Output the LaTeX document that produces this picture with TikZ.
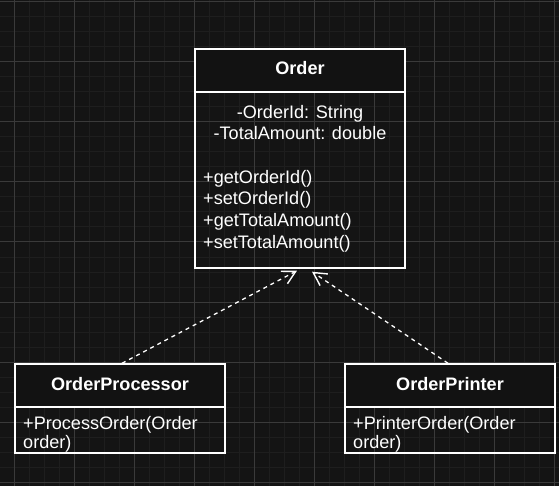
\documentclass[tikz,border=0pt]{standalone}
\usepackage{fontspec}
\setmainfont{Liberation Sans}
\usetikzlibrary{arrows.meta}
\definecolor{bg}{HTML}{141414}
\definecolor{gridminor}{HTML}{1E1E1E}
\definecolor{gridmajor}{HTML}{3A3A3A}
\definecolor{headfill}{HTML}{121212}
\begin{document}
\begin{tikzpicture}[x=1pt,y=-1pt,
  umlbox/.style={draw=white, line width=1.4pt, rectangle, inner sep=0pt},
  headbox/.style={fill=headfill, draw=white, line width=1.4pt, rectangle, inner sep=0pt},
  txt/.style={font=\fontsize{18.1}{21}\selectfont, text=white, inner sep=0pt},
  btxt/.style={txt, font=\fontsize{18.1}{21}\selectfont\bfseries},
  dep/.style={draw=white, line width=1.3pt, dash pattern=on 4pt off 4pt,
    -{Straight Barb[length=13pt,width=14pt,line width=1.4pt]}}
]
% background and grid
\fill[bg] (0,0) rectangle (559,486);
\useasboundingbox (0,0) rectangle (559,486);
\foreach \x in {14,29,...,554} \draw[gridminor, line width=1pt] (\x,0) -- (\x,486);
\foreach \y in {2,17,...,482} \draw[gridminor, line width=1pt] (0,\y) -- (559,\y);
\foreach \x in {14,74,...,554} \draw[gridmajor, line width=1pt] (\x,0) -- (\x,486);
\foreach \y in {2,62,...,482} \draw[gridmajor, line width=1pt] (0,\y) -- (559,\y);

% Order class
\node[headbox, minimum width=210pt, minimum height=43pt] (orderhead) at (300,70.5) {};
\node[umlbox, minimum width=210pt, minimum height=219pt] (order) at (300,158.5) {};
\node[btxt, anchor=base] (ordername) at (300,75) {Order};
\node[txt, anchor=base] (attr1) at (300,118.5) {-OrderId: String};
\node[txt, anchor=base] (attr2) at (300,140) {-TotalAmount: double};
\node[txt, anchor=base west] (m1) at (203,183.5) {+getOrderId()};
\node[txt, anchor=base west] (m2) at (203,205) {+setOrderId()};
\node[txt, anchor=base west] (m3) at (203,226.5) {+getTotalAmount()};
\node[txt, anchor=base west] (m4) at (203,248) {+setTotalAmount()};

% OrderProcessor class
\node[headbox, minimum width=210pt, minimum height=43pt] (prochead) at (120,385.5) {};
\node[umlbox, minimum width=210pt, minimum height=89pt] (proc) at (120,408.5) {};
\node[btxt, anchor=base] (procname) at (120,390.7) {OrderProcessor};
\node[txt, anchor=base west] (pm1) at (23,429) {+ProcessOrder(Order};
\node[txt, anchor=base west] (pm2) at (23,448.3) {order)};

% OrderPrinter class
\node[headbox, minimum width=210pt, minimum height=43pt] (printhead) at (450,385.5) {};
\node[umlbox, minimum width=210pt, minimum height=89pt] (printer) at (450,408.5) {};
\node[btxt, anchor=base] (printname) at (450,390.7) {OrderPrinter};
\node[txt, anchor=base west] (rm1) at (353,429) {+PrinterOrder(Order};
\node[txt, anchor=base west] (rm2) at (353,448.3) {order)};

% dependencies
\draw[dep] ([xshift=2pt]proc.north) -- ([xshift=-3pt,yshift=-2pt]order.south);
\draw[dep] ([xshift=-2pt]printer.north) -- ([xshift=12pt,yshift=-3pt]order.south);
\end{tikzpicture}
\end{document}
